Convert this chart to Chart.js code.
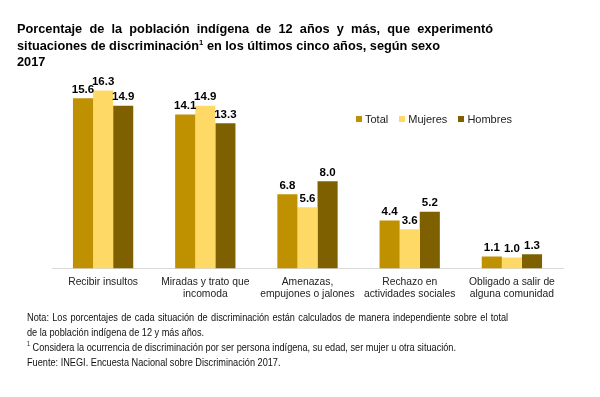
<!DOCTYPE html>
<html>
<head>
<meta charset="utf-8">
<script src="https://cdn.jsdelivr.net/npm/chart.js@4"></script>
<style>
  body { margin: 0; background: #fff; font-family: "Liberation Sans", Arial, sans-serif; }
  #wrap { position: relative; width: 600px; height: 397px; overflow: hidden; }
  #chart { position: absolute; left: 0; top: 0; }
  .title { position: absolute; left: 17px; top: 21px; width: 476px; font-weight: bold; font-size: 12.75px; line-height: 16.5px; color: #000; }
  .title .l1 { text-align: justify; text-align-last: justify; }
  .legend { position: absolute; left: 356px; top: 113px; font-size: 11px; color: #222; white-space: nowrap; }
  .legend span.sw { display: inline-block; width: 6px; height: 6px; margin-right: 3px; vertical-align: 1px; }
  .legend span.it { margin-right: 11px; }
  .notes { position: absolute; left: 27px; top: 310px; width: 566px; font-size: 10.8px; line-height: 15px; color: #111; white-space: nowrap; transform: scaleX(0.85); transform-origin: left top; }
  .notes .l1 { text-align: justify; text-align-last: justify; }
  sup { font-size: 0.6em; line-height: 0; vertical-align: 0.7em; }
</style>
</head>
<body>
<div id="wrap">
  <canvas id="chart" width="600" height="397"></canvas>
  <div class="title">
    <div class="l1">Porcentaje de la población indígena de 12 años y más, que experimentó</div>
    <div>situaciones de discriminación<sup>1</sup> en los últimos cinco años, según sexo</div>
    <div>2017</div>
  </div>
  <div class="legend" id="legend"></div>
  <div class="notes">
    <div class="l1">Nota: Los porcentajes de cada situación de discriminación están calculados de manera independiente sobre el total</div>
    <div>de la población indígena de 12 y más años.</div>
    <div><sup>1</sup> Considera la ocurrencia de discriminación por ser persona indígena, su edad, ser mujer u otra situación.</div>
    <div>Fuente: INEGI. Encuesta Nacional sobre Discriminación 2017.</div>
  </div>
</div>
<script>
const categories = [
    ["Recibir insultos"],
    ["Miradas y trato que", "incomoda"],
    ["Amenazas,", "empujones o jalones"],
    ["Rechazo en", "actividades sociales"],
    ["Obligado a salir de", "alguna comunidad"]
];
const seriesNames = ["Total", "Mujeres", "Hombres"];
const seriesColors = ["#BF9000", "#FFD966", "#7F6000"];
const totalValues = [15.6, 14.1, 6.8, 4.4, 1.1];
const mujeresValues = [16.3, 14.9, 5.6, 3.6, 1.0];
const hombresValues = [14.9, 13.3, 8.0, 5.2, 1.3];

// leyenda en html
const legendDiv = document.getElementById("legend");
seriesNames.forEach((name, i) => {
    legendDiv.innerHTML += `<span class="it"><span class="sw" style="background:${seriesColors[i]}"></span>${name}</span>`;
});

// etiquetas de valor encima de cada barra
const valueLabels = {
    id: 'valueLabels',
    afterDatasetsDraw(chart) {
        const ctx = chart.ctx;
        ctx.save();
        ctx.font = 'bold 11.5px "Liberation Sans", Arial, sans-serif';
        ctx.fillStyle = '#000';
        ctx.textAlign = 'center';
        ctx.textBaseline = 'bottom';
        chart.data.datasets.forEach((ds, di) => {
            chart.getDatasetMeta(di).data.forEach((bar, i) => {
                ctx.fillText(ds.data[i].toFixed(1), bar.x, bar.y - 3);
            });
        });
        ctx.restore();
    }
};

const chart = new Chart(document.getElementById("chart"), {
    type: 'bar',
    data: {
        labels: categories,
        datasets: [{
            label: seriesNames[0],
            backgroundColor: seriesColors[0],
            data: totalValues
        }, {
            label: seriesNames[1],
            backgroundColor: seriesColors[1],
            data: mujeresValues
        }, {
            label: seriesNames[2],
            backgroundColor: seriesColors[2],
            data: hombresValues
        }]
    },
    options: {
        responsive: false,
        animation: false,
        layout: {
            padding: { left: 52, right: 37, top: 72, bottom: 88.5 }
        },
        datasets: {
            bar: { categoryPercentage: 0.59, barPercentage: 1 }
        },
        plugins: {
            legend: { display: false },
            tooltip: { enabled: false }
        },
        scales: {
            x: {
                afterFit: (scale) => { scale.height = 40; },
                grid: { display: false, drawTicks: false },
                border: { display: true, color: '#D9D9D9', width: 1 },
                ticks: {
                    padding: 7,
                    color: '#222',
                    font: { family: '"Liberation Sans", Arial, sans-serif', size: 10.3 },
                    maxRotation: 0,
                    autoSkip: false
                }
            },
            y: {
                display: false,
                min: 0,
                max: 18
            }
        }
    },
    plugins: [valueLabels]
});
</script>
</body>
</html>
